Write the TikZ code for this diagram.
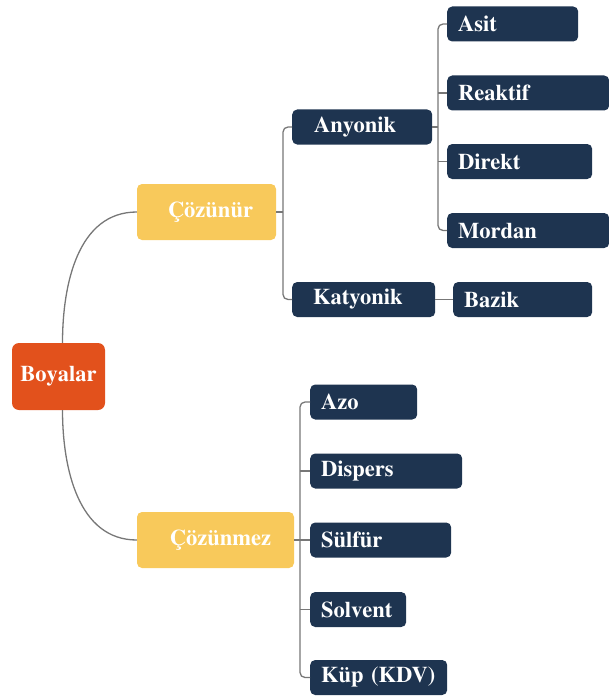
\documentclass[tikz,border=0pt]{standalone}
\usepackage[T1]{fontenc}
\renewcommand{\rmdefault}{ptm}
\usepackage{tikz}
\definecolor{navy}{HTML}{1E3450}
\definecolor{sunny}{HTML}{F8C95B}
\definecolor{rust}{HTML}{E2511C}
\definecolor{wire}{HTML}{777777}
\tikzset{
  box/.style={text=white, font=\fontsize{22.5}{25}\selectfont\bfseries, rounded corners=5pt},
  leaf/.style={box, fill=navy, minimum height=35pt, inner xsep=11pt, anchor=west, align=left, text width=#1},
  group/.style={box, fill=sunny, minimum height=56pt, align=center, minimum width=#1},
  link/.style={draw=wire, line width=1.3pt, rounded corners=5pt},
}
\begin{document}
\begin{tikzpicture}[x=1pt,y=-1pt]
			%%%%% START %%%%%
			\useasboundingbox (0,0) rectangle (609,698);
			
			\node[box, fill=rust, minimum width=93pt, minimum height=67pt, rounded corners=7pt] (boy) at (58.5,376.5) {Boyalar};
			
			\node[group=139pt] (cozr) at (206.5,212) {\hspace*{8pt}Çözünür};
			\node[group=157pt] (cozm) at (215.5,540) {\hspace*{10pt}Çözünmez};
			
			\node[leaf=96pt, inner xsep=22pt] (anyo) at (292,127) {Anyonik};
			\node[leaf=101pt, inner xsep=21pt] (katy) at (292,299.5) {Katyonik};
			
			\node[leaf=109pt] (asit) at (447,24) {Asit};
			\node[leaf=140pt] (reak) at (447,93) {Reaktif};
			\node[leaf=123pt] (dire) at (447,161.5) {Direkt};
			\node[leaf=140pt] (mord) at (447,230.5) {Mordan};
			\node[leaf=117pt] (bazi) at (453,299.5) {Bazik};
			
			\node[leaf=85pt] (azo) at (310,402) {Azo};
			\node[leaf=130pt] (disp) at (310,471) {Dispers};
			\node[leaf=119pt] (sulf) at (310,540) {Sülfür};
			\node[leaf=74pt] (solv) at (310,609.5) {Solvent};
			\node[leaf=115pt] (kup) at (310,677.5) {Küp (KDV)};
			
			\draw[link] ([xshift=4pt]boy.north) to[out=90, in=180] (cozr.west);
			\draw[link] ([xshift=4pt]boy.south) to[out=-90, in=180] (cozm.west);
			
			\draw[link] (cozr.east) -- ++(7,0);
			\draw[link] (anyo.west) -- ++(-9,0) |- (katy.west);
			
			\draw[link] (anyo.east) -- ++(6,0);
			\draw[link] (asit.west) -- ++(-9,0) |- (mord.west);
			\draw[link] (reak.west) -- ++(-9,0);
			\draw[link] (dire.west) -- ++(-9,0);
			\draw[link] (katy.east) -- (bazi.west);
			
			\draw[link] (cozm.east) -- ++(6,0);
			\draw[link] (azo.west) -- ++(-10,0) |- (kup.west);
			\draw[link] (disp.west) -- ++(-10,0);
			\draw[link] (sulf.west) -- ++(-10,0);
			\draw[link] (solv.west) -- ++(-10,0);
			%%%%% END %%%%%
\end{tikzpicture}
\end{document}
